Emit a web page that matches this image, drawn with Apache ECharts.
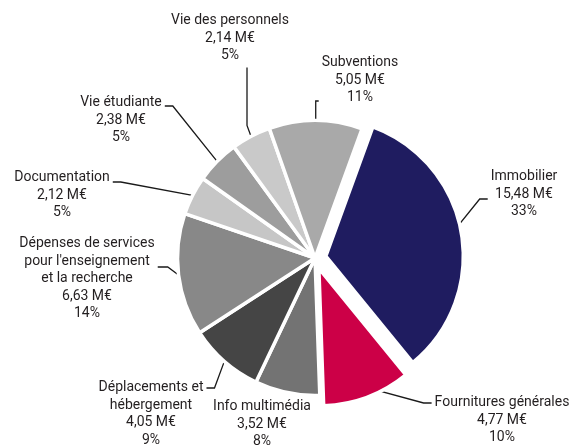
<!DOCTYPE html>
<html>
<head>
<meta charset="utf-8">
<title>Répartition des dépenses</title>
<script src="https://cdn.jsdelivr.net/npm/echarts@6/dist/echarts.min.js"></script>
<style>
    html, body { margin: 0; padding: 0; background: #fff; }
    #pie { width: 576px; height: 445px; }
</style>
</head>
<body>
<div id="pie"></div>
<script>
// données (M€)
var names = ['Immobilier', 'Fournitures générales', 'Info multimédia', 'Déplacements et\nhébergement',
    'Dépenses de services\npour l\'enseignement\net la recherche', 'Documentation', 'Vie étudiante',
    'Vie des personnels', 'Subventions'];
var values = [15.48, 4.77, 3.52, 4.05, 6.63, 2.12, 2.38, 2.14, 5.05];
var percents = ['33%', '10%', '8%', '9%', '14%', '5%', '5%', '5%', '11%'];
var exploded = ['Immobilier', 'Fournitures générales'];

var colors = ['#1f1c60', '#cc0047', '#737373', '#454545', '#888888', '#c6c6c6', '#9d9d9d', '#c9c9c9', '#a9a9a9'];

// placement des étiquettes : centre du texte, haut du texte, marges (pour accrocher le trait), longueur du trait horizontal
var labelPlace = [
    { x: 524, top: 168, pad: [0, 0, 9.5, 3], len2: 8 },
    { x: 502, top: 394, pad: [34.5, 0, 0, 3], len2: 8 },
    { x: 262, top: 398, pad: [0, 0, 0, 0], len2: 0, noLine: true },
    { x: 151, top: 379, pad: [52, 3, 0, 0], len2: 8 },
    { x: 87, top: 235, pad: [23.5, 3, 0, 0], len2: 10 },
    { x: 62, top: 169, pad: [26.5, 3, 0, 0], len2: 8 },
    { x: 121, top: 94, pad: [28.5, 3, 0, 0], len2: 8 },
    { x: 230, top: 12, pad: [0, 34, 3, 0], len2: 58 },
    { x: 360, top: 54, pad: [0, 0, 41.5, 3], len2: 9 }
];

var CENTER = [315, 258];
var RADIUS = 137.5;

var fmt = function (v) {
    return v.toFixed(2).replace('.', ',') + ' M€';
};

var labelOpt = {
    position: 'outside',
    backgroundColor: 'rgba(0,0,0,0)',
    formatter: function (params) {
        var lines = params.name.split('\n');
        lines.push(fmt(params.value));
        lines.push(percents[params.dataIndex]);
        return lines.map(function (l) { return '{c|' + l + '}'; }).join('\n');
    },
    rich: {
        c: {
            align: 'center',
            fontFamily: 'Roboto',
            fontSize: 14,
            lineHeight: 17.5,
            color: '#231f20'
        }
    }
};
var layoutFn = function (params) {
    var p = labelPlace[params.dataIndex];
    return {
        x: p.x + (p.pad[1] - p.pad[3]) / 2,
        y: p.top - p.pad[0],
        align: 'center',
        verticalAlign: 'top'
    };
};

// série principale : secteurs (les secteurs détachés sont "sélectionnés")
// série d'étiquettes : porte les étiquettes des secteurs détachés (sinon l'état "select" les replace)
var pieData = [], labelData = [];
for (var i = 0; i < names.length; i++) {
    var p = labelPlace[i];
    var isOut = exploded.indexOf(names[i]) >= 0;
    pieData.push({
        name: names[i],
        value: values[i],
        selected: isOut,
        itemStyle: { color: colors[i] },
        label: { show: !isOut, padding: p.pad },
        labelLine: { show: !isOut && !p.noLine, length2: p.len2 }
    });
    labelData.push({
        name: names[i],
        value: values[i],
        label: { show: isOut, padding: p.pad },
        labelLine: { show: isOut && !p.noLine, length2: p.len2 }
    });
}

var chart = echarts.init(document.getElementById('pie'));
var option = {
    animation: false,
    series: [{
        type: 'pie',
        z: 2,
        center: CENTER,
        radius: RADIUS,
        startAngle: 70,
        clockwise: true,
        avoidLabelOverlap: false,
        selectedMode: 'multiple',
        selectedOffset: 11,
        itemStyle: { borderColor: '#fff', borderWidth: 3.5 },
        emphasis: { scale: false },
        label: labelOpt,
        labelLine: { lineStyle: { color: '#1a1a1a', width: 1.3 } },
        labelLayout: layoutFn,
        data: pieData
    }, {
        type: 'pie',
        z: 1,
        silent: true,
        center: CENTER,
        radius: RADIUS,
        startAngle: 70,
        clockwise: true,
        avoidLabelOverlap: false,
        itemStyle: { color: 'rgba(0,0,0,0)', borderWidth: 0 },
        emphasis: { disabled: true },
        label: labelOpt,
        labelLine: { lineStyle: { color: '#1a1a1a', width: 1.3 } },
        labelLayout: layoutFn,
        data: labelData
    }]
};
chart.setOption(option);
window.onresize = function () {
    chart.resize();
};
</script>
</body>
</html>
